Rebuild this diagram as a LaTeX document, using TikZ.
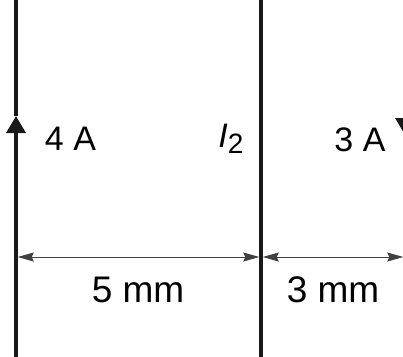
\documentclass[tikz,border=0pt]{standalone}
\usepackage{fontspec}
\setmainfont{Liberation Sans}
\usetikzlibrary{arrows.meta}
\begin{document}
\begin{tikzpicture}[x=1pt,y=-1pt,
  wire/.style={line width=3.4pt,black!90},
  current/.style={line width=3.4pt,black!90,-{Triangle[length=17pt,width=19pt]}},
  dim/.style={line width=1pt,black!75,{Stealth[length=16pt,width=9pt,inset=2pt]}-{Stealth[length=16pt,width=9pt,inset=2pt]}},
  lbl/.style={font=\fontsize{34}{36}\selectfont,inner sep=0pt},
  dimlbl/.style={font=\fontsize{37}{39}\selectfont,inner sep=0pt}]
\useasboundingbox (0,0) rectangle (403,356);
\clip (0,0) rectangle (403,356);
\coordinate (w1t) at (16,-5); \coordinate (w1b) at (16,361); \coordinate (w1a) at (16,116);
\coordinate (w2t) at (261,-5); \coordinate (w2b) at (261,361);
\coordinate (w3t) at (405,-5); \coordinate (w3b) at (405,361); \coordinate (w3a) at (405,135);
\coordinate (d1) at (17.7,257); \coordinate (d2) at (259.3,257); \coordinate (d3) at (262.7,257); \coordinate (d4) at (403.3,257);
\draw[current] (w1b) -- (w1a); \draw[wire] (w1a) -- (w1t);
\draw[wire] (w2t) -- (w2b);
\draw[current] (w3t) -- (w3a); \draw[wire] (w3a) -- (w3b);
\draw[dim] (d1) -- (d2); \draw[dim] (d3) -- (d4);
\node[lbl] (i1) at (70.5,139) {4 A};
\node[lbl] (i2) at (231,139) {\itshape I\/\upshape\raisebox{-0.35ex}{\fontsize{28}{30}\selectfont 2}};
\node[lbl] (i3) at (360,140) {3 A};
\node[dimlbl] (s1) at (138,290) {5 mm};
\node[dimlbl] (s2) at (333,290) {3 mm};
\end{tikzpicture}
\end{document}
